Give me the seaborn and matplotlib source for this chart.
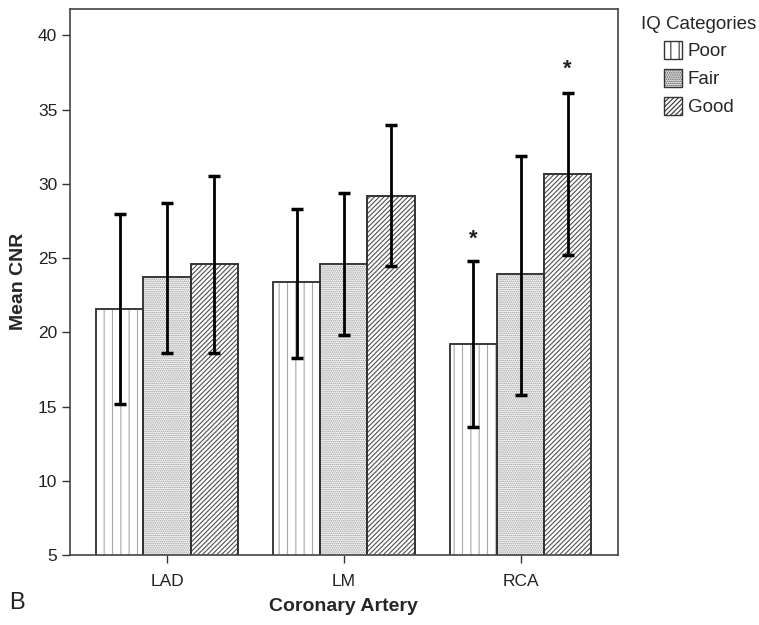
import numpy as np
import pandas as pd
import matplotlib
matplotlib.use("Agg")
import matplotlib.pyplot as plt
import seaborn as sns
from matplotlib.patches import Patch, Rectangle

# data
arteries = ["LAD", "LM", "RCA"]
iq_cats = ["Poor", "Fair", "Good"]
mean_poor = [21.6, 23.4, 19.2]
mean_fair = [23.7, 24.6, 23.9]
mean_good = [24.6, 29.2, 30.7]
low_poor = [15.2, 18.3, 13.6]
low_fair = [18.6, 19.8, 15.8]
low_good = [18.6, 24.5, 25.2]
high_poor = [28.0, 28.3, 24.8]
high_fair = [28.7, 29.4, 31.9]
high_good = [30.5, 34.0, 36.1]
# asterisks: (artery, category, y)
stars = [("RCA", "Poor", 26.3), ("RCA", "Good", 37.7)]

df = pd.DataFrame({
    "Artery": arteries * 3,
    "IQ": [c for c in iq_cats for _ in arteries],
    "CNR": mean_poor + mean_fair + mean_good,
    "lo": low_poor + low_fair + low_good,
    "hi": high_poor + high_fair + high_good,
})

sns.set_style("white")
plt.rcParams["font.family"] = ["Liberation Sans", "DejaVu Sans"]
plt.rcParams["hatch.linewidth"] = 0.8

fig = plt.figure(figsize=(7.59, 6.25), dpi=100)
ax = fig.add_axes([0.092, 0.112, 0.722, 0.874])

hatches = {"Poor": "||", "Fair": "........", "Good": "///////"}
hatch_cols = {"Poor": "#a8a8a8", "Fair": "#909090", "Good": "#505050"}
outline = "#333333"

sns.barplot(data=df, x="Artery", y="CNR", hue="IQ", order=arteries, hue_order=iq_cats,
            palette=["white"] * 3, edgecolor=outline, linewidth=1.2,
            errorbar=None, width=0.8, ax=ax, legend=False)

# hatch + outline + error bars, using bar positions from seaborn
for cont, cat in zip(ax.containers, iq_cats):
    sub = df[df["IQ"] == cat].set_index("Artery").loc[arteries]
    xs = []
    for bar in cont:
        bar.set_hatch(hatches[cat])
        bar.set_edgecolor(hatch_cols[cat])
        ax.add_patch(Rectangle(bar.get_xy(), bar.get_width(), bar.get_height(),
                               fill=False, edgecolor=outline, linewidth=1.3, zorder=bar.get_zorder()))
        xs.append(bar.get_x() + bar.get_width() / 2)
    ax.errorbar(xs, sub["CNR"], yerr=[sub["CNR"] - sub["lo"], sub["hi"] - sub["CNR"]],
                fmt="none", ecolor="black", elinewidth=2, capsize=4.5, capthick=2.5, zorder=5)
    for art, c, y in stars:
        if c == cat:
            ax.text(xs[arteries.index(art)], y, "*", ha="center", va="center",
                    fontsize=16, fontweight="bold", color="#222222")

ax.set_ylim(5, 41.8)
ax.set_xlim(-0.55, 2.55)
ax.set_yticks([5, 10, 15, 20, 25, 30, 35, 40])
ax.tick_params(axis="both", length=6, width=1, color="#333333", labelsize=12.5,
               labelcolor="#222222", direction="out", bottom=True, left=True, pad=3)
ax.tick_params(axis="x", pad=8)
for s in ax.spines.values():
    s.set_color("#444444")
    s.set_linewidth(1.2)
ax.set_xlabel("Coronary Artery", fontsize=14, fontweight="bold", labelpad=6)
ax.set_ylabel("Mean CNR", fontsize=14, fontweight="bold", labelpad=8)

# legend outside on the right
handles = [Patch(facecolor="white", edgecolor=outline, hatch=hatches[c], label=c) for c in iq_cats]
leg = fig.legend(handles=handles, title="IQ Categories", loc="upper left",
                 bbox_to_anchor=(0.845, 0.975), frameon=False, fontsize=13.5, title_fontsize=13.5,
                 handlelength=0.95, handleheight=1.1, handletextpad=0.3, labelspacing=0.45,
                 borderaxespad=0, borderpad=0)
leg._legend_box.align = "center"

fig.text(0.012, 0.025, "B", fontsize=17, color="#222222")

fig.savefig("out.png", dpi=100)
